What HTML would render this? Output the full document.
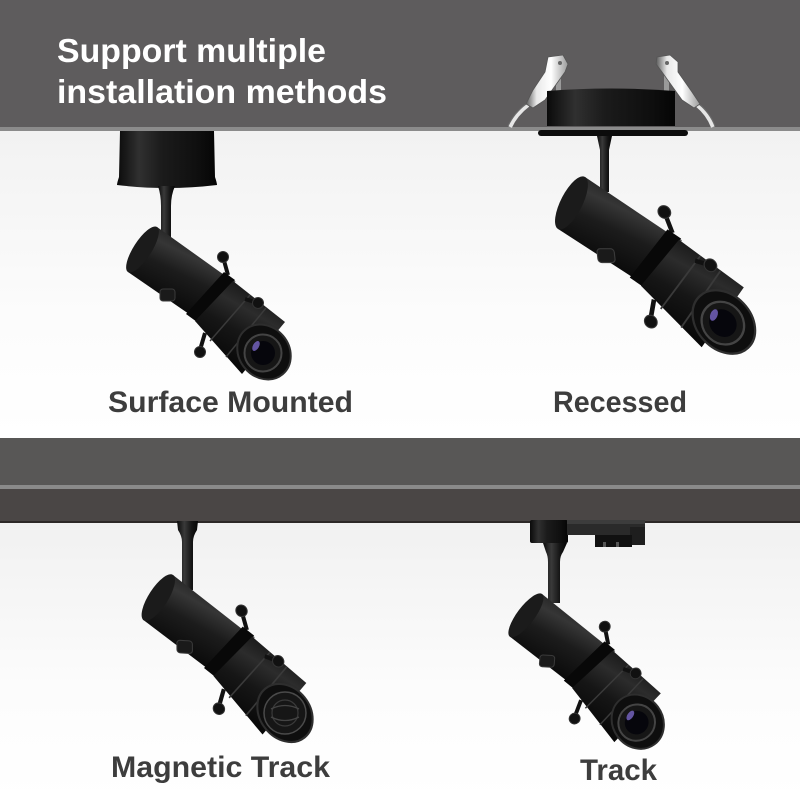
<!DOCTYPE html>
<html><head><meta charset="utf-8"><style>
html,body{margin:0;padding:0;background:#fff;}
svg{display:block;}
</style></head><body>
<svg width="800" height="800" viewBox="0 0 800 800" xmlns="http://www.w3.org/2000/svg" xmlns:xlink="http://www.w3.org/1999/xlink">
<defs>
<linearGradient id="bgTop" x1="0" y1="0" x2="0" y2="1">
<stop offset="0" stop-color="#f2f2f2"/><stop offset="0.6" stop-color="#fcfcfc"/><stop offset="1" stop-color="#ffffff"/></linearGradient>
<linearGradient id="bgBot" x1="0" y1="0" x2="0" y2="1">
<stop offset="0" stop-color="#f1f1f1"/><stop offset="0.6" stop-color="#fcfcfc"/><stop offset="1" stop-color="#ffffff"/></linearGradient>
<linearGradient id="can" x1="0" y1="0" x2="1" y2="0">
<stop offset="0" stop-color="#0a0a0a"/><stop offset="0.22" stop-color="#303030"/><stop offset="0.45" stop-color="#1b1b1b"/><stop offset="0.8" stop-color="#0f0f0f"/><stop offset="1" stop-color="#050505"/></linearGradient>
<linearGradient id="stem" x1="0" y1="0" x2="1" y2="0">
<stop offset="0" stop-color="#0a0a0a"/><stop offset="0.35" stop-color="#3a3a3a"/><stop offset="0.7" stop-color="#151515"/><stop offset="1" stop-color="#050505"/></linearGradient>
<linearGradient id="tube" x1="0.75" y1="0.05" x2="0.25" y2="0.95">
<stop offset="0" stop-color="#161616"/><stop offset="0.3" stop-color="#363636"/><stop offset="0.52" stop-color="#1c1c1c"/><stop offset="1" stop-color="#040404"/></linearGradient>
<linearGradient id="barrel" x1="0.75" y1="0.05" x2="0.25" y2="0.95">
<stop offset="0" stop-color="#111"/><stop offset="0.3" stop-color="#2c2c2c"/><stop offset="0.55" stop-color="#161616"/><stop offset="1" stop-color="#040404"/></linearGradient>
<linearGradient id="metal" x1="0" y1="0" x2="1" y2="0">
<stop offset="0" stop-color="#5a5a5a"/><stop offset="0.25" stop-color="#e8e8e8"/><stop offset="0.6" stop-color="#ffffff"/><stop offset="1" stop-color="#9a9a9a"/></linearGradient>

<!-- lamp body in local coords: origin = rear top corner -->
<g id="body">
  <polygon points="0,0 70,50 32,87 -29,45" fill="url(#tube)"/>
  <ellipse cx="-14.5" cy="22.5" rx="26.8" ry="9" transform="rotate(122.8 -14.5 22.5)" fill="#1b1b1b"/>
  <line x1="66" y1="30" x2="71" y2="48" stroke="#111" stroke-width="4"/>
  <circle cx="66" cy="30" r="5.5" fill="#111" stroke="#333"/>
  <polygon points="67,45 78,53 40,95 29,87" fill="#080808"/>
  <line x1="78" y1="54" x2="40" y2="94" stroke="#5c5c5c" stroke-width="1.6"/>
  <polygon points="76,54 128,95 85,147 38,94" fill="url(#barrel)"/>
  <line x1="93" y1="68" x2="53" y2="114" stroke="#3a3a3a" stroke-width="1.5"/>
  <line x1="109" y1="81" x2="69" y2="130" stroke="#3a3a3a" stroke-width="1.5"/>
  <line x1="88" y1="72" x2="101" y2="76" stroke="#111" stroke-width="4"/>
  <circle cx="101" cy="76" r="5.5" fill="#111" stroke="#333"/>
  <line x1="48" y1="106" x2="43" y2="123" stroke="#111" stroke-width="4"/>
  <circle cx="43" cy="125" r="5.5" fill="#111" stroke="#333"/>
  <rect x="3" y="62" width="15" height="12" rx="3" fill="#1a1a1a" stroke="#3a3a3a"/>
  <ellipse cx="107" cy="125" rx="25" ry="29" transform="rotate(-40 107 125)" fill="#0e0e0e" stroke="#2e2e2e" stroke-width="2"/>
  <circle cx="106" cy="126" r="18.5" fill="#161616" stroke="#444" stroke-width="2"/>
  <circle cx="106" cy="126" r="12" fill="#06060c"/>
  <ellipse cx="99" cy="119" rx="3" ry="5.5" transform="rotate(30 99 119)" fill="#7a68c8" opacity="0.8"/>
</g>
</defs>

<!-- backgrounds -->
<rect x="0" y="0" width="800" height="800" fill="#ffffff"/>
<rect x="0" y="131" width="800" height="307" fill="url(#bgTop)"/>
<rect x="0" y="523" width="800" height="277" fill="url(#bgBot)"/>
<rect x="0" y="0" width="800" height="127" fill="#5e5c5d"/>
<rect x="0" y="127" width="800" height="4" fill="#8b8b8b"/>
<rect x="0" y="438" width="800" height="47" fill="#585756"/>
<rect x="0" y="485" width="800" height="4" fill="#8a8a8a"/>
<rect x="0" y="489" width="800" height="32" fill="#4a4645"/>
<rect x="0" y="521" width="800" height="2" fill="#2c2827"/>

<!-- title -->
<text x="57" y="62" font-family="Liberation Sans, sans-serif" font-weight="bold" font-size="33" fill="#ffffff" textLength="269" lengthAdjust="spacingAndGlyphs">Support multiple</text>
<text x="57" y="103" font-family="Liberation Sans, sans-serif" font-weight="bold" font-size="33" fill="#ffffff" textLength="330" lengthAdjust="spacingAndGlyphs">installation methods</text>

<!-- ============ LAMP 1 : Surface mounted ============ -->
<path d="M120,131 L214,131 L215,177 Q217,183 217,185 Q167,191 117,185 Q117,183 119,177 Z" fill="url(#can)"/>
<path d="M158,186 L175,186 Q171,195 171,206 L171,242 L161,242 L161,206 Q161,195 158,186 Z" fill="url(#stem)"/>
<use xlink:href="#body" href="#body" transform="translate(157,227)"/>

<!-- ============ LAMP 2 : Recessed ============ -->
<!-- left clip -->
<path d="M528,105 Q516,114 510,127" stroke="#e6e6e6" stroke-width="4" fill="none"/>
<path d="M526,104 Q514,113 508,126" stroke="#6a6a6a" stroke-width="1.2" fill="none"/>
<rect x="556" y="70" width="5" height="30" fill="#9a9a9a"/>
<polygon points="548,57 563,55 568,64 565,72 545,100 533,108 526,104 533,90 545,72" fill="url(#metal)" stroke="#555" stroke-width="0.8"/>
<circle cx="560" cy="63" r="2" fill="#666"/>
<!-- right clip -->
<path d="M697,105 Q708,114 713,127" stroke="#e6e6e6" stroke-width="4" fill="none"/>
<path d="M699,104 Q710,113 715,126" stroke="#6a6a6a" stroke-width="1.2" fill="none"/>
<rect x="664" y="70" width="5" height="30" fill="#9a9a9a"/>
<polygon points="657,57 670,55 678,62 678,72 692,92 700,104 694,108 682,100 662,72 656,64" fill="url(#metal)" stroke="#555" stroke-width="0.8"/>
<circle cx="667" cy="63" r="2" fill="#666"/>
<path d="M547,91 Q611,86 675,91 L675,126 L547,126 Z" fill="url(#can)"/>
<rect x="538" y="130" width="150" height="6" rx="3" fill="#0c0c0c"/>
<path d="M597,136 L612,136 L609,150 L609,192 L600,192 L600,150 Z" fill="url(#stem)"/>
<use xlink:href="#body" href="#body" transform="translate(585,177) rotate(46.2) scale(1.22,1.08) rotate(-49.4)"/>

<!-- labels row 1 -->
<text x="108" y="412" font-family="Liberation Sans, sans-serif" font-weight="bold" font-size="30" fill="#3d3d3d" textLength="245" lengthAdjust="spacingAndGlyphs">Surface Mounted</text>
<text x="553" y="412" font-family="Liberation Sans, sans-serif" font-weight="bold" font-size="30" fill="#3d3d3d" textLength="134" lengthAdjust="spacingAndGlyphs">Recessed</text>

<!-- ============ LAMP 3 : Magnetic track ============ -->
<path d="M177,521 L198,521 L197,530 Q193,536 193,542 L193,590 L182,590 L182,542 Q182,536 178,530 Z" fill="url(#stem)"/>
<use xlink:href="#body" href="#body" transform="translate(173,575) rotate(50.9) scale(1.08,1.0) rotate(-49.4)"/>
<!-- lens cap -->
<circle cx="285" cy="713" r="21" fill="#161616" stroke="#4a4a4a" stroke-width="1.5"/>
<circle cx="285" cy="713" r="13" fill="none" stroke="#3a3a3a" stroke-width="1.2"/>
<path d="M271,709 Q285,702 299,709" stroke="#444" stroke-width="1.3" fill="none"/>
<path d="M271,717 Q285,724 299,717" stroke="#444" stroke-width="1.3" fill="none"/>

<!-- ============ LAMP 4 : Track ============ -->
<rect x="530" y="520" width="38" height="23" rx="2" fill="url(#can)"/>
<rect x="567" y="520" width="78" height="15" fill="#2a2a2a"/>
<rect x="567" y="520" width="78" height="4" fill="#3c3c3c"/>
<rect x="630" y="527" width="15" height="18" fill="#1e1e1e"/>
<rect x="595" y="535" width="37" height="12" fill="#111"/>
<rect x="603" y="542" width="3" height="5" fill="#555"/>
<rect x="616" y="542" width="3" height="5" fill="#555"/>
<path d="M543,543 L567,543 L563,552 Q560,556 560,562 L560,603 L548,603 L548,562 Q548,556 546,552 Z" fill="url(#stem)"/>
<use xlink:href="#body" href="#body" transform="translate(542,594) rotate(53.1) scale(0.97,1.0) rotate(-49.4)"/>

<!-- labels row 2 -->
<text x="111" y="777" font-family="Liberation Sans, sans-serif" font-weight="bold" font-size="30" fill="#3d3d3d" textLength="219" lengthAdjust="spacingAndGlyphs">Magnetic Track</text>
<text x="580" y="780" font-family="Liberation Sans, sans-serif" font-weight="bold" font-size="30" fill="#3d3d3d" textLength="77" lengthAdjust="spacingAndGlyphs">Track</text>
</svg>
</body></html>
